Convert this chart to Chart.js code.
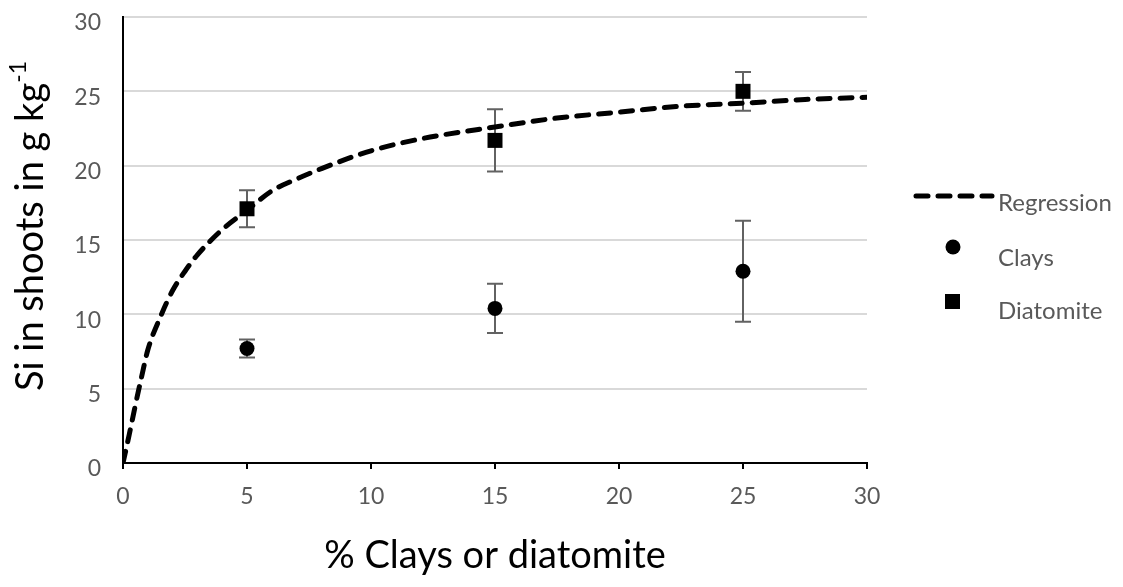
<!DOCTYPE html>
<html>
<head>
<meta charset="utf-8">
<script src="https://cdn.jsdelivr.net/npm/chart.js@4.4.1/dist/chart.umd.min.js"></script>
<style>
  body { margin: 0; background: #fff; }
  #wrap { width: 1123px; height: 587px; }
</style>
</head>
<body>
<div id="wrap"><canvas id="siChart"></canvas></div>
<script>
// values
const doses = [5, 15, 25];
const claysMean = [7.7, 10.4, 12.9];
const claysErr = [0.6, 1.65, 3.4];
const diatMean = [17.1, 21.7, 25.0];
const diatErr = [1.25, 2.1, 1.3];

// regression curve, read point by point
const regX = [0, 0.25, 0.5, 0.75, 1, 1.5, 2, 2.5, 3, 4, 5, 6, 7, 8, 10, 12, 15, 17.5, 20, 22.5, 25, 27.5, 30];
const regY = [0, 1.9, 3.9, 5.8, 7.6, 9.8, 11.6, 12.9, 14.0, 15.7, 17.0, 18.3, 19.1, 19.8, 21.0, 21.8, 22.6, 23.2, 23.6, 24.0, 24.2, 24.45, 24.6];

const xTicks = [0, 5, 10, 15, 20, 25, 30];
const yTicks = [0, 5, 10, 15, 20, 25, 30];

const FONT = 'Lato, "Liberation Sans", sans-serif';
const GREY = '#595959';

const toPts = (xs, ys) => xs.map((x, i) => ({ x: x, y: ys[i] }));

// error bars, drawn under the markers
const errorBars = {
    id: 'errorBars',
    beforeDatasetsDraw(chart) {
        const { ctx, scales: { x, y } } = chart;
        const sets = [[claysMean, claysErr], [diatMean, diatErr]];
        ctx.save();
        ctx.strokeStyle = '#626262';
        ctx.lineWidth = 2;
        sets.forEach(([m, e]) => {
            doses.forEach((d, i) => {
                const px = x.getPixelForValue(d);
                const top = y.getPixelForValue(m[i] + e[i]);
                const bot = y.getPixelForValue(m[i] - e[i]);
                ctx.beginPath();
                ctx.moveTo(px, top); ctx.lineTo(px, bot);
                ctx.moveTo(px - 8, top); ctx.lineTo(px + 8, top);
                ctx.moveTo(px - 8, bot); ctx.lineTo(px + 8, bot);
                ctx.stroke();
            });
        });
        ctx.restore();
    }
};

// y title with superscript, and the legend on the right
const extras = {
    id: 'extras',
    afterDraw(chart) {
        const { ctx, chartArea } = chart;
        ctx.save();
        // y axis title
        const main = 'Si in shoots in g kg';
        const sup = '-1';
        ctx.font = '38px ' + FONT;
        const wMain = ctx.measureText(main).width;
        ctx.font = '23px ' + FONT;
        const wSup = ctx.measureText(sup).width;
        const cy = (chartArea.top + chartArea.bottom) / 2 - 14;
        ctx.translate(43, cy);
        ctx.rotate(-Math.PI / 2);
        ctx.fillStyle = '#000';
        ctx.textBaseline = 'alphabetic';
        ctx.textAlign = 'left';
        const start = -(wMain + wSup) / 2;
        ctx.font = '38px ' + FONT;
        ctx.fillText(main, start, 0);
        ctx.font = '23px ' + FONT;
        ctx.fillText(sup, start + wMain, -17);
        ctx.restore();

        // legend
        ctx.save();
        ctx.font = '24px ' + FONT;
        ctx.fillStyle = GREY;
        ctx.textBaseline = 'middle';
        ctx.textAlign = 'left';
        ctx.strokeStyle = '#000';
        ctx.lineWidth = 5;
        ctx.lineCap = 'round';
        ctx.setLineDash([12, 10]);
        ctx.beginPath();
        ctx.moveTo(916, 196); ctx.lineTo(992, 196);
        ctx.stroke();
        ctx.setLineDash([]);
        ctx.fillText('Regression', 998, 203);
        ctx.fillStyle = '#000';
        ctx.beginPath();
        ctx.arc(953, 247, 7.5, 0, Math.PI * 2);
        ctx.fill();
        ctx.fillRect(945, 294, 15, 15);
        ctx.fillStyle = GREY;
        ctx.fillText('Clays', 998, 258);
        ctx.fillText('Diatomite', 998, 311);
        ctx.restore();
    }
};

new Chart(document.getElementById('siChart'), {
    type: 'scatter',
    data: {
        datasets: [
            {
                label: 'Regression',
                type: 'line',
                data: toPts(regX, regY),
                borderColor: '#000',
                borderWidth: 5,
                borderDash: [12, 10],
                borderCapStyle: 'round',
                cubicInterpolationMode: 'monotone',
                pointRadius: 0,
                fill: false
            },
            {
                label: 'Clays',
                data: toPts(doses, claysMean),
                pointStyle: 'circle',
                pointRadius: 7.5,
                backgroundColor: '#000',
                borderColor: '#000',
                borderWidth: 0
            },
            {
                label: 'Diatomite',
                data: toPts(doses, diatMean),
                pointStyle: 'rect',
                pointRadius: 10.6,
                backgroundColor: '#000',
                borderColor: '#000',
                borderWidth: 0
            }
        ]
    },
    options: {
        responsive: true,
        maintainAspectRatio: false,
        animation: false,
        layout: { padding: { top: 17, right: 256, left: 0, bottom: 0 } },
        plugins: {
            legend: { display: false },
            tooltip: { enabled: false }
        },
        scales: {
            x: {
                type: 'linear',
                min: 0, max: 30,
                afterBuildTicks: (s) => { s.ticks = xTicks.map(v => ({ value: v })); },
                afterFit: (s) => { s.height = 124; },
                border: { display: true, color: '#000', width: 2 },
                grid: { drawOnChartArea: false, drawTicks: true, tickLength: 6, color: '#000', lineWidth: 2 },
                ticks: { color: GREY, font: { family: FONT, size: 23 }, padding: 14 },
                title: {
                    display: true,
                    text: '% Clays or diatomite',
                    color: '#000',
                    font: { family: FONT, size: 38 },
                    padding: { top: 4, bottom: 8 }
                }
            },
            y: {
                type: 'linear',
                min: 0, max: 30,
                afterBuildTicks: (s) => { s.ticks = yTicks.map(v => ({ value: v })); },
                afterFit: (s) => { s.width = 123; s.paddingTop = 0; s.paddingBottom = 0; },
                border: { display: true, color: '#000', width: 2 },
                grid: { color: '#d9d9d9', lineWidth: 2, drawTicks: false },
                ticks: { color: GREY, font: { family: FONT, size: 23 }, padding: 22, labelOffset: 6 }
            }
        }
    },
    plugins: [errorBars, extras]
});
</script>
</body>
</html>
